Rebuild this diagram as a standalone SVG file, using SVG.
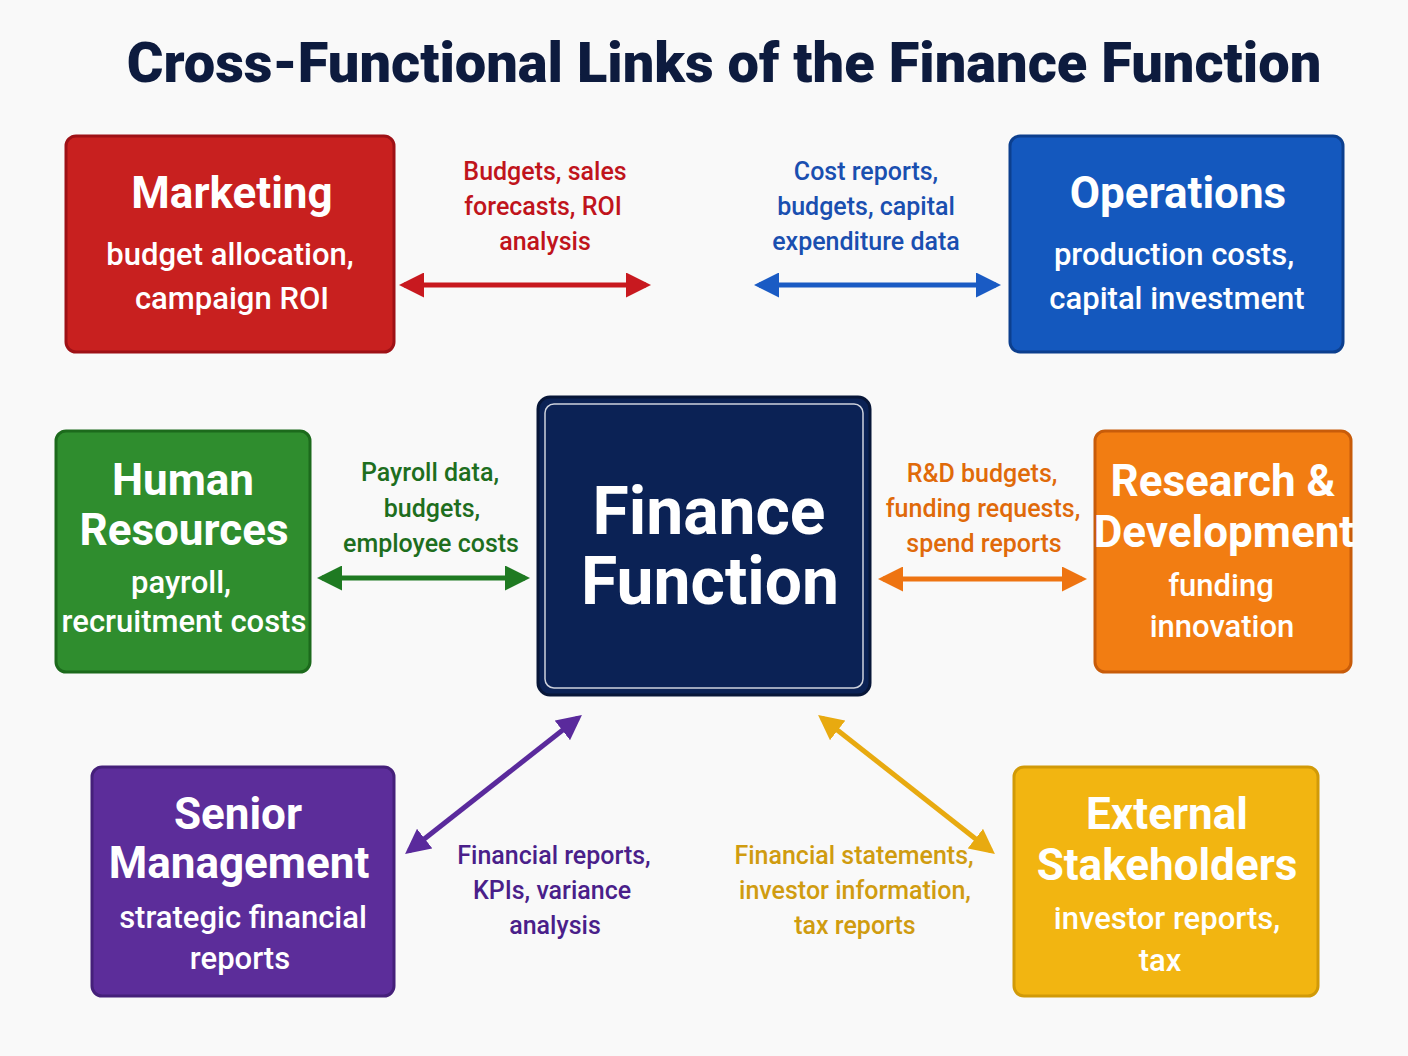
<svg xmlns="http://www.w3.org/2000/svg" width="1408" height="1056" viewBox="0 0 1408 1056">
<style>
text{font-family:Roboto,"Liberation Sans",sans-serif;text-anchor:middle;font-weight:bold}
.t{fill:#fff;font-size:44px}
.s{fill:#fff;font-size:31px;font-weight:500}
.l{font-size:25px;font-weight:500}
.box{stroke-width:3}
</style>
<defs>
<marker id="mr" viewBox="0 0 10 10" refX="8" refY="5" markerWidth="5" markerHeight="5" orient="auto-start-reverse"><path d="M0,0L10,5L0,10z" fill="#c8191f"/></marker>
<marker id="mb" viewBox="0 0 10 10" refX="8" refY="5" markerWidth="5" markerHeight="5" orient="auto-start-reverse"><path d="M0,0L10,5L0,10z" fill="#1a5bc4"/></marker>
<marker id="mg" viewBox="0 0 10 10" refX="8" refY="5" markerWidth="5" markerHeight="5" orient="auto-start-reverse"><path d="M0,0L10,5L0,10z" fill="#1f7a22"/></marker>
<marker id="mo" viewBox="0 0 10 10" refX="8" refY="5" markerWidth="5" markerHeight="5" orient="auto-start-reverse"><path d="M0,0L10,5L0,10z" fill="#ee7412"/></marker>
<marker id="mp" viewBox="0 0 10 10" refX="8" refY="5" markerWidth="5" markerHeight="5" orient="auto-start-reverse"><path d="M0,0L10,5L0,10z" fill="#5a2a9c"/></marker>
<marker id="my" viewBox="0 0 10 10" refX="8" refY="5" markerWidth="5" markerHeight="5" orient="auto-start-reverse"><path d="M0,0L10,5L0,10z" fill="#e8aa10"/></marker>
</defs>
<rect width="1408" height="1056" fill="#f9f9f9"/>
<text x="724" y="82" style="font-size:56px;fill:#0d1b3e;font-weight:900">Cross-Functional Links of the Finance Function</text>

<g id="marketing"><rect class="box" x="66" y="136" width="328" height="216" rx="10" fill="#c8201f" stroke="#9e1116"/>
<text class="t" x="232" y="208">Marketing</text><text class="s" x="230" y="265">budget allocation,</text><text class="s" x="232" y="309">campaign ROI</text></g>

<g id="operations"><rect class="box" x="1010" y="136" width="333" height="216" rx="10" fill="#1458be" stroke="#0c3f8e"/>
<text class="t" x="1178" y="208">Operations</text><text class="s" x="1174" y="265">production costs,</text><text class="s" x="1177" y="309">capital investment</text></g>

<g id="finance"><rect x="538" y="397" width="332" height="298" rx="12" fill="#0b2255" stroke="#071638" stroke-width="3"/>
<rect x="545" y="404" width="318" height="284" rx="9" fill="none" stroke="#fff" stroke-width="1.5" opacity="0.8"/>
<text x="709" y="534" style="fill:#fff;font-size:66px">Finance</text><text x="710" y="604" style="fill:#fff;font-size:66px">Function</text></g>

<g id="hr"><rect class="box" x="56" y="431" width="254" height="241" rx="10" fill="#2f8d2e" stroke="#1c6a1c"/>
<text class="t" x="183" y="495">Human</text><text class="t" x="184" y="545">Resources</text><text class="s" x="181" y="593">payroll,</text><text class="s" x="184" y="632">recruitment costs</text></g>

<g id="rd"><rect class="box" x="1095" y="431" width="256" height="241" rx="10" fill="#f27d12" stroke="#c85c0a"/>
<text class="t" x="1223" y="496">Research &amp;</text><text class="t" x="1224" y="547">Development</text><text class="s" x="1221" y="596">funding</text><text class="s" x="1222" y="637">innovation</text></g>

<g id="senior"><rect class="box" x="92" y="767" width="302" height="229" rx="10" fill="#5c2d9a" stroke="#45207a"/>
<text class="t" x="238" y="829">Senior</text><text class="t" x="239" y="878">Management</text><text class="s" x="243" y="928">strategic financial</text><text class="s" x="240" y="969">reports</text></g>

<g id="external"><rect class="box" x="1014" y="767" width="304" height="229" rx="10" fill="#f2b511" stroke="#d19a08"/>
<text class="t" x="1167" y="829">External</text><text class="t" x="1167" y="880">Stakeholders</text><text class="s" x="1167" y="929">investor reports,</text><text class="s" x="1160" y="971">tax</text></g>

<g id="connectors" stroke-width="5" fill="none">
<line x1="404" y1="285" x2="646" y2="285" stroke="#c8191f" marker-start="url(#mr)" marker-end="url(#mr)"/>
<line x1="759" y1="285" x2="996" y2="285" stroke="#1a5bc4" marker-start="url(#mb)" marker-end="url(#mb)"/>
<line x1="322" y1="578" x2="525" y2="578" stroke="#1f7a22" marker-start="url(#mg)" marker-end="url(#mg)"/>
<line x1="883" y1="579" x2="1082" y2="579" stroke="#ee7412" marker-start="url(#mo)" marker-end="url(#mo)"/>
<line x1="409" y1="851" x2="578" y2="718" stroke="#5a2a9c" marker-start="url(#mp)" marker-end="url(#mp)"/>
<line x1="822" y1="718" x2="991" y2="851" stroke="#e8aa10" marker-start="url(#my)" marker-end="url(#my)"/>
</g>

<g id="labels">
<text class="l" fill="#c0141c"><tspan x="545" y="180">Budgets, sales</tspan><tspan x="543" y="215">forecasts, ROI</tspan><tspan x="545" y="250">analysis</tspan></text>
<text class="l" fill="#1a4fb0"><tspan x="866" y="180">Cost reports,</tspan><tspan x="866" y="215">budgets, capital</tspan><tspan x="866" y="250">expenditure data</tspan></text>
<text class="l" fill="#1e6e1e"><tspan x="430" y="481">Payroll data,</tspan><tspan x="432" y="517">budgets,</tspan><tspan x="431" y="552">employee costs</tspan></text>
<text class="l" fill="#e06a0a"><tspan x="982" y="482">R&amp;D budgets,</tspan><tspan x="983" y="517">funding requests,</tspan><tspan x="984" y="552">spend reports</tspan></text>
<text class="l" fill="#4a1f8a"><tspan x="554" y="864">Financial reports,</tspan><tspan x="552" y="899">KPIs, variance</tspan><tspan x="555" y="934">analysis</tspan></text>
<text class="l" fill="#d09c10"><tspan x="854" y="864">Financial statements,</tspan><tspan x="855" y="899">investor information,</tspan><tspan x="855" y="934">tax reports</tspan></text>
</g>
</svg>
